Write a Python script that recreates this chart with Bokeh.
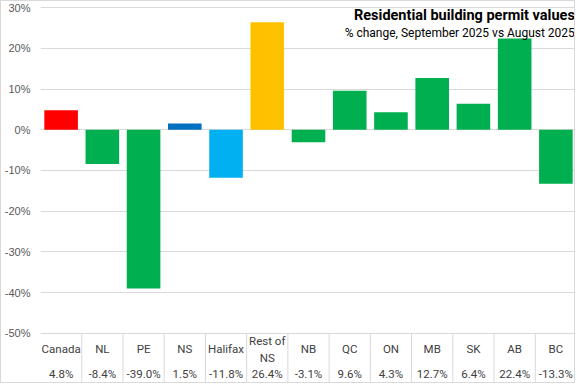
from bokeh.plotting import figure
from bokeh.models import (FactorRange, Range1d, FixedTicker, Label,
                          ColumnDataSource, CustomJSTickFormatter)
from bokeh.core.properties import value
from bokeh.embed import file_html
from bokeh.resources import INLINE

# ---- data ----
categories = ["Canada", "NL", "PE", "NS", "Halifax", "Rest of NS", "NB",
              "QC", "ON", "MB", "SK", "AB", "BC"]
pct_change = [4.8, -8.4, -39.0, 1.5, -11.8, 26.4, -3.1, 9.6, 4.3, 12.7, 6.4, 22.4, -13.3]
y_ticks = [-50, -40, -30, -20, -10, 0, 10, 20, 30]
title_text = "Residential building permit values"
subtitle_text = "% change, September 2025 vs August 2025"

# ---- styles ----
color_map = {"Canada": "#FF0000", "NS": "#0070C0", "Halifax": "#00B0F0",
             "Rest of NS": "#FFC000"}
default_color = "#00B050"
grid_color = "#D9D9D9"
text_color = "#404040"

colors = [color_map.get(c, default_color) for c in categories]
labels = [c.replace("Rest of ", "Rest of\n") for c in categories]
value_labels = [f"{v:.1f}%" for v in pct_change]

Y_TOP, Y_BOTTOM = 31.5, -62.6
CAT_ROW_Y = -54.0
VAL_ROW_Y = -60.1

src = ColumnDataSource(dict(cat=categories, val=pct_change, color=colors,
                            label=labels, vlabel=value_labels,
                            cat_y=[CAT_ROW_Y] * len(categories),
                            val_y=[VAL_ROW_Y] * len(categories)))

p = figure(x_range=FactorRange(*categories, range_padding=0, factor_padding=0),
           y_range=Range1d(Y_BOTTOM, Y_TOP),
           width=575, height=383, output_backend="svg", toolbar_location=None,
           min_border_top=0, min_border_bottom=0, min_border_right=0,
           min_border_left=0)
p.styles = {"border": "1px solid #D9D9D9"}
p.outline_line_color = None
p.background_fill_color = "white"
p.border_fill_color = "white"

# axes
p.xaxis.visible = False
p.xgrid.visible = False
yax = p.yaxis[0]
yax.ticker = FixedTicker(ticks=y_ticks)
yax.formatter = CustomJSTickFormatter(code="return tick.toFixed(0) + '%';")
yax.axis_line_color = None
yax.major_tick_line_color = None
yax.minor_tick_line_color = None
yax.major_tick_out = 0
yax.major_tick_in = 0
yax.minor_tick_out = 0
yax.minor_tick_in = 0
yax.major_label_text_font = "Liberation Sans"
yax.major_label_text_font_size = "11px"
yax.major_label_text_color = "#595959"
yax.major_label_standoff = 10
p.ygrid.ticker = FixedTicker(ticks=y_ticks)
p.ygrid.grid_line_color = grid_color

# bars
p.vbar(x="cat", top="val", bottom=0, width=0.815, fill_color="color",
       line_color=None, source=src)

# data table below the axis
n = len(categories)
seps = list(range(1, n))
p.segment(x0=seps, x1=seps, y0=[y_ticks[0]] * len(seps), y1=[Y_BOTTOM] * len(seps),
          line_color=grid_color, line_width=1)
p.text(x="cat", y="cat_y", text="label", source=src, text_align="center",
       text_baseline="middle", text_font=value("Roboto"), text_font_size="11.5px",
       text_color=text_color, text_line_height=1.2)
p.text(x="cat", y="val_y", text="vlabel", source=src, text_align="center",
       text_baseline="middle", text_font=value("Roboto"), text_font_size="11.5px",
       text_color=text_color)

# titles
p.add_layout(Label(x=n - 0.04, y=28.0, text=title_text, text_align="right",
                   text_baseline="middle", text_font="Roboto", text_font_style="bold",
                   text_font_size="14.5px", text_color="black"))
p.add_layout(Label(x=n - 0.04, y=23.8, text=subtitle_text, text_align="right",
                   text_baseline="middle", text_font="Roboto",
                   text_font_size="12px", text_color="black"))

open("out.html", "w").write(file_html(p, INLINE))
